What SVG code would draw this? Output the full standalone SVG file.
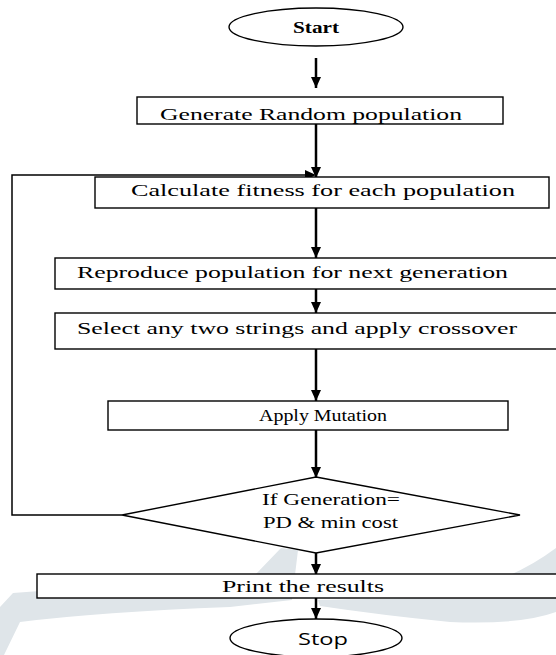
<svg xmlns="http://www.w3.org/2000/svg" width="556" height="655" viewBox="0 0 556 655">
<defs>
<marker id="ah" markerWidth="11" markerHeight="10" refX="11" refY="5" orient="auto" markerUnits="userSpaceOnUse">
<path d="M0,0 L11,5 L0,10 Z" fill="#000"/>
</marker>
<style>
.box{fill:#fff;stroke:#000;stroke-width:1.4}
.t{font-family:"Liberation Serif","Times New Roman",serif;font-size:16px;fill:#000}
.s{font-family:"Open Sans","DejaVu Sans",sans-serif;font-size:16px;fill:#000}
.a{stroke:#000;stroke-width:2.5;fill:none;marker-end:url(#ah)}
.l{stroke:#000;stroke-width:1.5;fill:none}
.wm{fill:#dfe5e9}
</style>
</defs>
<rect width="556" height="655" fill="#fff"/>
<g id="watermark">
<path class="wm" d="M0,607 L13,593 L255,575 L281,548 L298,550 L292,600 L230,607 Q100,612 20,622 L4,655 L0,655 Z"/>
<path class="wm" d="M318,600 L420,598 Q500,590 556,548 L556,612 Q520,625 450,622 Q380,615 320,606 Z"/>
</g>
<g id="connectors">
<line class="a" x1="316" y1="58" x2="316" y2="88"/>
<line class="a" x1="316" y1="124" x2="316" y2="178"/>
<polyline class="l" points="122,515 12,515 12,175 306,175"/>
<path d="M305,170 L316,175 L305,180 Z" fill="#000"/>
<line class="a" x1="316" y1="208" x2="316" y2="258"/>
<line class="a" x1="316" y1="289" x2="316" y2="313"/>
<line class="a" x1="316" y1="349" x2="316" y2="401"/>
<line class="a" x1="316" y1="430" x2="316" y2="478"/>
<line class="a" x1="316" y1="553" x2="316" y2="575"/>
<line class="a" x1="316" y1="598" x2="316" y2="619"/>
</g>
<g id="start">
<ellipse class="box" cx="316" cy="27" rx="87" ry="19"/>
<text class="t" x="316" y="33" text-anchor="middle" font-weight="bold" textLength="46" lengthAdjust="spacingAndGlyphs">Start</text>
</g>
<g id="generate">
<rect class="box" x="137" y="97" width="366" height="27"/>
<text class="t" x="160" y="120" textLength="302" lengthAdjust="spacingAndGlyphs">Generate Random population</text>
</g>
<g id="fitness">
<rect class="box" x="95" y="177" width="454" height="31"/>
<text class="t" x="131" y="196" textLength="384" lengthAdjust="spacingAndGlyphs">Calculate fitness for each population</text>
</g>
<g id="reproduce">
<rect class="box" x="55" y="258" width="510" height="31"/>
<text class="t" x="77" y="278" textLength="431" lengthAdjust="spacingAndGlyphs">Reproduce population for next generation</text>
</g>
<g id="crossover">
<rect class="box" x="55" y="313" width="510" height="36"/>
<text class="t" x="77" y="334" textLength="440" lengthAdjust="spacingAndGlyphs">Select any two strings and apply crossover</text>
</g>
<g id="mutation">
<rect class="box" x="108" y="401" width="400" height="29"/>
<text class="t" x="259" y="421" textLength="128" lengthAdjust="spacingAndGlyphs">Apply Mutation</text>
</g>
<g id="decision">
<polygon class="box" points="316,477 520,515 316,553 122,515"/>
<text class="t" x="262" y="505" textLength="138" lengthAdjust="spacingAndGlyphs">If Generation=</text>
<text class="t" x="263" y="528" textLength="135" lengthAdjust="spacingAndGlyphs">PD &amp; min cost</text>
</g>
<g id="print">
<rect class="box" x="37" y="574" width="528" height="24"/>
<text class="t" x="222" y="592" textLength="162" lengthAdjust="spacingAndGlyphs">Print the results</text>
</g>
<g id="stop">
<ellipse class="box" cx="316" cy="638" rx="86" ry="19"/>
<text class="s" x="323" y="645" text-anchor="middle" textLength="50" lengthAdjust="spacingAndGlyphs">Stop</text>
</g>
</svg>
